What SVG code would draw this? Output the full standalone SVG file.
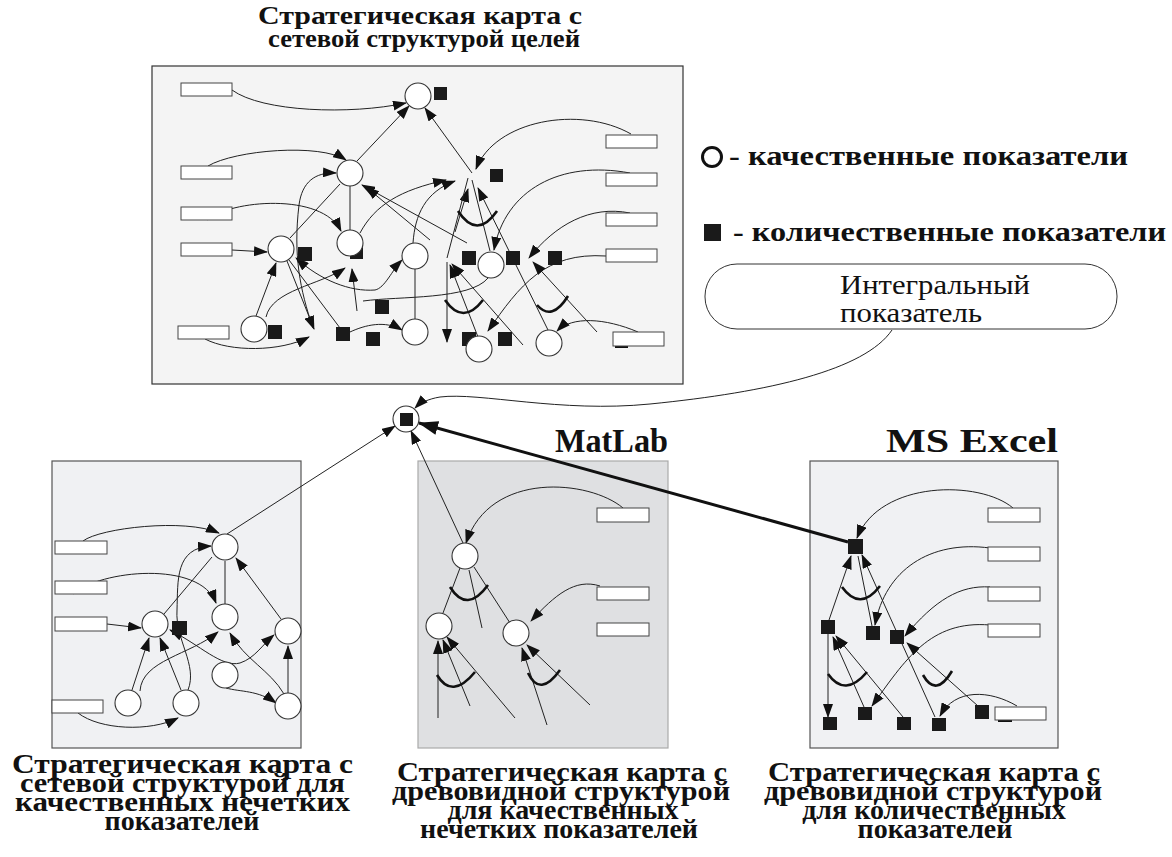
<svg xmlns="http://www.w3.org/2000/svg" width="1172" height="857" viewBox="0 0 1172 857">
<style>
.bg{fill:#fff}
.map{stroke-width:1.2}
.c{fill:#fff;stroke:#333;stroke-width:1.1}
.s{fill:#1a1a1a}
.r{fill:#fff;stroke:#444;stroke-width:1}
.e{fill:none;stroke:#222;stroke-width:1}
.a{fill:none;stroke:#222;stroke-width:1;marker-end:url(#ah)}
.and{fill:none;stroke:#111;stroke-width:2.6}
.cap{font-family:"Liberation Serif","DejaVu Serif",serif;font-weight:bold;fill:#111}
.mid{text-anchor:middle}
.lab{font-family:"Liberation Serif","DejaVu Serif",serif;fill:#111}
</style>
<defs>
<marker id="ah" markerUnits="userSpaceOnUse" markerWidth="14" markerHeight="10" refX="13" refY="5" orient="auto-start-reverse"><path d="M0,0 L14,5 L0,10 z" fill="#111"/></marker>
<marker id="ahb" markerUnits="userSpaceOnUse" markerWidth="20" markerHeight="14" refX="19" refY="7" orient="auto"><path d="M0,0 L20,7 L0,14 z" fill="#111"/></marker>
</defs>
<rect class="bg" x="0" y="0" width="1172" height="857"/>

<!-- titles -->
<g id="titles">
<text class="cap" x="258" y="24" font-size="26" textLength="324" lengthAdjust="spacingAndGlyphs">Стратегическая карта с</text>
<text class="cap" x="268" y="47" font-size="26" textLength="312" lengthAdjust="spacingAndGlyphs">сетевой структурой целей</text>
<text class="cap" x="12" y="773" font-size="28" textLength="341" lengthAdjust="spacingAndGlyphs">Стратегическая карта с</text>
<text class="cap" x="20" y="792" font-size="28" textLength="325" lengthAdjust="spacingAndGlyphs">сетевой структурой для</text>
<text class="cap" x="15" y="811" font-size="28" textLength="335" lengthAdjust="spacingAndGlyphs">качественных нечетких</text>
<text class="cap mid" x="182" y="830" font-size="28">показателей</text>
<text class="cap" x="397" y="781" font-size="28" textLength="330" lengthAdjust="spacingAndGlyphs">Стратегическая карта с</text>
<text class="cap" x="392" y="800" font-size="28" textLength="338" lengthAdjust="spacingAndGlyphs">древовидной структурой</text>
<text class="cap mid" x="563" y="819" font-size="28">для качественных</text>
<text class="cap mid" x="559" y="838" font-size="28">нечетких показателей</text>
<text class="cap" x="768" y="781" font-size="28" textLength="332" lengthAdjust="spacingAndGlyphs">Стратегическая карта с</text>
<text class="cap" x="764" y="800" font-size="28" textLength="338" lengthAdjust="spacingAndGlyphs">древовидной структурой</text>
<text class="cap mid" x="934" y="819" font-size="28">для количественных</text>
<text class="cap mid" x="935" y="838" font-size="28">показателей</text>
<text class="cap" x="555" y="452" font-size="34" textLength="113" lengthAdjust="spacingAndGlyphs">MatLab</text>
<text class="cap" x="886" y="452" font-size="34" textLength="172" lengthAdjust="spacingAndGlyphs">MS Excel</text>
</g>

<!-- legend -->
<g id="legend">
<circle cx="712" cy="157" r="9.5" fill="none" stroke="#111" stroke-width="3"/>
<text class="cap" x="729" y="165" font-size="27" textLength="399" lengthAdjust="spacingAndGlyphs">- качественные показатели</text>
<rect x="704" y="224" width="17" height="17" class="s"/>
<text class="cap" x="733" y="241" font-size="27" textLength="433" lengthAdjust="spacingAndGlyphs">- количественные показатели</text>
</g>

<!-- map frames -->
<g id="frames">
<rect x="152" y="66" width="531" height="318" fill="#f4f4f4" stroke="#333" class="map"/>
<rect x="52" y="461" width="249" height="287" fill="#f0f1f3" stroke="#555" class="map"/>
<rect x="418" y="461" width="250" height="287" fill="#dfe0e2" stroke="#aaa" class="map"/>
<rect x="810" y="461" width="248" height="287" fill="#f0f1f3" stroke="#555" class="map"/>
</g>

<g id="integral">
<rect x="705" y="264" width="412" height="65" rx="32" ry="32" fill="#fff" stroke="#333" stroke-width="1"/>
<text class="lab" x="840" y="294" font-size="27" textLength="190" lengthAdjust="spacingAndGlyphs">Интегральный</text>
<text class="lab" x="840" y="322" font-size="27" textLength="142" lengthAdjust="spacingAndGlyphs">показатель</text>
</g>

<!-- connectors -->
<g id="connectors">
<!-- top map -->
<path class="a" d="M232,90 C262,112 350,115 406,103"/>
<path class="a" d="M357,161 L409,106"/>
<path class="a" d="M472,173 L425,108"/>
<path class="a" d="M208,166 C235,150 320,143 346,160"/>
<path class="a" d="M313,328 C300,290 293,255 299,205 C302,182 315,172 336,173"/>
<path class="a" d="M207,220 C230,200 322,192 341,231"/>
<path class="a" d="M232,250 L267,252"/>
<path class="a" d="M256,316 L276,263"/>
<path class="a" d="M287,261 L314,329"/>
<path class="a" d="M205,339 C230,352 280,352 309,337"/>
<path class="e" d="M290,238 L340,184"/>
<path class="e" d="M350,186 L350,230"/>
<path class="e" d="M289,260 L340,328"/>
<path class="a" d="M266,317 C272,290 320,285 345,268"/>
<path class="a" d="M357,311 L352,269"/>
<path class="a" style="marker-start:url(#ah)" d="M296,258 C320,280 350,292 375,290 C385,288 392,270 402,260"/>
<path class="e" d="M363,301 C400,296 470,300 488,278"/>
<path class="e" d="M415,269 L415,319"/>
<path class="a" d="M350,332 C365,325 385,320 402,330"/>
<path class="a" d="M360,233 C375,205 400,190 446,180"/>
<path class="a" d="M413,243 C415,215 425,192 455,181"/>
<path class="a" d="M455,232 L468,189"/>
<path class="a" d="M548,330 L478,188"/>
<path class="e" d="M468,178 L447,258"/>
<path class="e" d="M472,180 L490,251"/>
<path class="a" d="M467,243 L362,185"/>
<path class="a" d="M430,240 L366,187"/>
<path class="a" d="M606,256 C545,252 520,285 488,331"/>
<path class="a" d="M638,332 C605,318 572,316 557,331"/>
<path class="a" d="M630,213 C590,205 555,225 529,258"/>
<path class="a" d="M630,173 C560,160 505,190 494,250"/>
<path class="a" d="M631,134 C580,105 495,120 476,169"/>
<path class="a" d="M447,262 L447,342"/>
<path class="a" d="M478,337 L450,265"/>
<path class="a" d="M523,345 L452,264"/>
<path class="a" d="M597,332 L533,262"/>
<path class="and" d="M458,211 Q477,240 497,211"/>
<path class="and" d="M445,300 Q463,326 483,300"/>
<path class="and" d="M537,305 Q552,322 568,296"/>
<line x1="615" y1="347" x2="628" y2="347" stroke="#111" stroke-width="2"/>

<!-- to central node -->
<path class="a" d="M227,534 L395,426"/>
<path class="a" d="M463,543 L411,431"/>
<path fill="none" stroke="#111" stroke-width="3" marker-end="url(#ahb)" d="M848,542 L419,423"/>
<path class="a" d="M892,330 C865,370 770,392 650,404 C560,413 480,392 440,397 C428,399 420,403 415,408"/>

<!-- bottom-left map -->
<path class="a" d="M83,541 C100,528 185,518 219,533"/>
<path class="a" d="M73,594 C100,570 200,560 216,603"/>
<path class="a" d="M107,624 L141,628"/>
<path class="a" d="M188,690 C198,665 175,640 177,610 C178,580 175,548 211,546"/>
<path class="e" d="M212,557 L164,614"/>
<path class="e" d="M225,561 L225,604"/>
<path class="a" d="M281,619 L236,558"/>
<path class="a" d="M132,690 L149,638"/>
<path class="a" d="M181,690 L160,638"/>
<path class="a" d="M140,691 C142,660 190,655 218,632"/>
<path class="a" d="M284,694 C270,670 245,660 230,633"/>
<path class="a" style="marker-start:url(#ah)" d="M170,630 C200,645 222,668 240,663 C255,658 262,645 274,635"/>
<path class="a" d="M288,693 L288,646"/>
<path class="a" d="M226,688 C240,692 258,690 276,703"/>
<path class="a" d="M78,713 C100,730 150,732 178,718"/>

<!-- middle map -->
<path class="a" d="M623,508 C590,480 490,470 466,543"/>
<path class="a" d="M600,586 C575,578 555,595 531,621"/>
<path class="e" d="M460,568 L443,613"/>
<path class="e" d="M469,570 L482,628"/>
<path class="e" d="M474,567 L510,623"/>
<path class="and" d="M450,587 Q467,614 488,585"/>
<path class="a" d="M438,718 L438,641"/>
<path class="a" d="M470,706 L443,640"/>
<path class="a" d="M515,718 L447,637"/>
<path class="and" d="M437,675 Q452,700 475,672"/>
<path class="a" d="M547,725 L522,648"/>
<path class="a" d="M590,705 L527,645"/>
<path class="and" d="M528,673 Q540,698 560,670"/>

<!-- right map -->
<path class="a" d="M1013,508 C980,480 880,480 857,538"/>
<path class="a" d="M990,548 C930,540 885,570 875,625"/>
<path class="a" d="M990,587 C960,585 935,600 905,636"/>
<path class="a" d="M990,625 C930,620 905,660 872,706"/>
<path class="a" d="M1017,706 C990,690 955,688 940,716"/>
<path class="a" d="M829,620 L851,556"/>
<path class="e" d="M872,626 L858,556"/>
<path class="a" d="M935,717 L862,555"/>
<path class="and" d="M842,587 Q860,612 880,586"/>
<path class="a" d="M828,634 L828,717"/>
<path class="a" d="M864,707 L833,637"/>
<path class="a" d="M903,717 L836,636"/>
<path class="and" d="M828,674 Q845,698 867,672"/>
<path class="a" d="M978,706 L907,643"/>
<path class="and" d="M923,675 Q936,698 952,671"/>
<line x1="998" y1="721" x2="1012" y2="721" stroke="#111" stroke-width="2"/>
</g>

<!-- central node -->
<g id="n-integral">
<circle cx="406" cy="419" r="13" class="c"/>
<rect x="400" y="413" width="13" height="13" class="s"/>
</g>

<!-- top map nodes -->
<g id="top-rects">
<rect id="tr1" x="181" y="83" width="51" height="13" class="r"/>
<rect id="tr2" x="181" y="166" width="51" height="13" class="r"/>
<rect id="tr3" x="181" y="207" width="51" height="13" class="r"/>
<rect id="tr4" x="181" y="243" width="51" height="13" class="r"/>
<rect id="tr5" x="178" y="326" width="51" height="13" class="r"/>
<rect id="tr6" x="606" y="135" width="51" height="13" class="r"/>
<rect id="tr7" x="606" y="173" width="51" height="13" class="r"/>
<rect id="tr8" x="606" y="213" width="51" height="13" class="r"/>
<rect id="tr9" x="606" y="249" width="51" height="13" class="r"/>
<rect id="tr10" x="613" y="332" width="51" height="14" class="r"/>
</g>
<g id="top-squares">
<rect x="434" y="87" width="13" height="13" class="s"/>
<rect x="490" y="169" width="13" height="13" class="s"/>
<rect x="350" y="246" width="13" height="13" class="s"/>
<rect x="298" y="247" width="14" height="14" class="s"/>
<rect x="268" y="325" width="14" height="14" class="s"/>
<rect x="336" y="327" width="14" height="14" class="s"/>
<rect x="375" y="300" width="14" height="14" class="s"/>
<rect x="366" y="332" width="14" height="14" class="s"/>
<rect x="462" y="251" width="14" height="14" class="s"/>
<rect x="506" y="251" width="14" height="14" class="s"/>
<rect x="548" y="251" width="14" height="14" class="s"/>
<rect x="462" y="332" width="14" height="14" class="s"/>
<rect x="498" y="332" width="14" height="14" class="s"/>
</g>
<g id="top-circles">
<circle id="tc1" cx="418" cy="96" r="13" class="c"/>
<circle id="tc2" cx="350" cy="173" r="13" class="c"/>
<circle id="tc3" cx="281" cy="249" r="13" class="c"/>
<circle id="tc4" cx="350" cy="243" r="13" class="c"/>
<circle id="tc5" cx="415" cy="256" r="13" class="c"/>
<circle id="tc6" cx="491" cy="265" r="13" class="c"/>
<circle id="tc7" cx="254" cy="329" r="13" class="c"/>
<circle id="tc8" cx="415" cy="332" r="13" class="c"/>
<circle id="tc9" cx="479" cy="349" r="13" class="c"/>
<circle id="tc10" cx="549" cy="343" r="13" class="c"/>
</g>

<!-- bottom-left nodes -->
<g id="left-nodes">
<rect x="55" y="541" width="52" height="13" class="r"/>
<rect x="55" y="581" width="52" height="13" class="r"/>
<rect x="55" y="617" width="52" height="14" class="r"/>
<rect x="52" y="700" width="51" height="13" class="r"/>
<rect x="172" y="621" width="15" height="14" class="s"/>
<circle cx="225" cy="547" r="13" class="c"/>
<circle cx="225" cy="617" r="13" class="c"/>
<circle cx="155" cy="624" r="13" class="c"/>
<circle cx="288" cy="631" r="13" class="c"/>
<circle cx="225" cy="675" r="13" class="c"/>
<circle cx="128" cy="703" r="13" class="c"/>
<circle cx="186" cy="703" r="13" class="c"/>
<circle cx="288" cy="706" r="13" class="c"/>
</g>

<!-- middle nodes -->
<g id="mid-nodes">
<rect x="597" y="508" width="52" height="14" class="r"/>
<rect x="597" y="587" width="52" height="13" class="r"/>
<rect x="597" y="623" width="52" height="13" class="r"/>
<circle cx="465" cy="556" r="13" class="c"/>
<circle cx="439" cy="626" r="13" class="c"/>
<circle cx="516" cy="633" r="13" class="c"/>
</g>

<!-- right nodes -->
<g id="right-nodes">
<rect x="988" y="508" width="52" height="14" class="r"/>
<rect x="988" y="547" width="52" height="14" class="r"/>
<rect x="988" y="587" width="52" height="14" class="r"/>
<rect x="988" y="624" width="52" height="13" class="r"/>
<rect x="995" y="707" width="51" height="13" class="r"/>
<rect x="848" y="539" width="15" height="15" class="s"/>
<rect x="821" y="620" width="14" height="14" class="s"/>
<rect x="866" y="626" width="14" height="14" class="s"/>
<rect x="890" y="630" width="14" height="14" class="s"/>
<rect x="823" y="717" width="14" height="13" class="s"/>
<rect x="858" y="707" width="14" height="13" class="s"/>
<rect x="897" y="717" width="14" height="13" class="s"/>
<rect x="932" y="718" width="14" height="13" class="s"/>
<rect x="975" y="705" width="14" height="14" class="s"/>
</g>
</svg>
